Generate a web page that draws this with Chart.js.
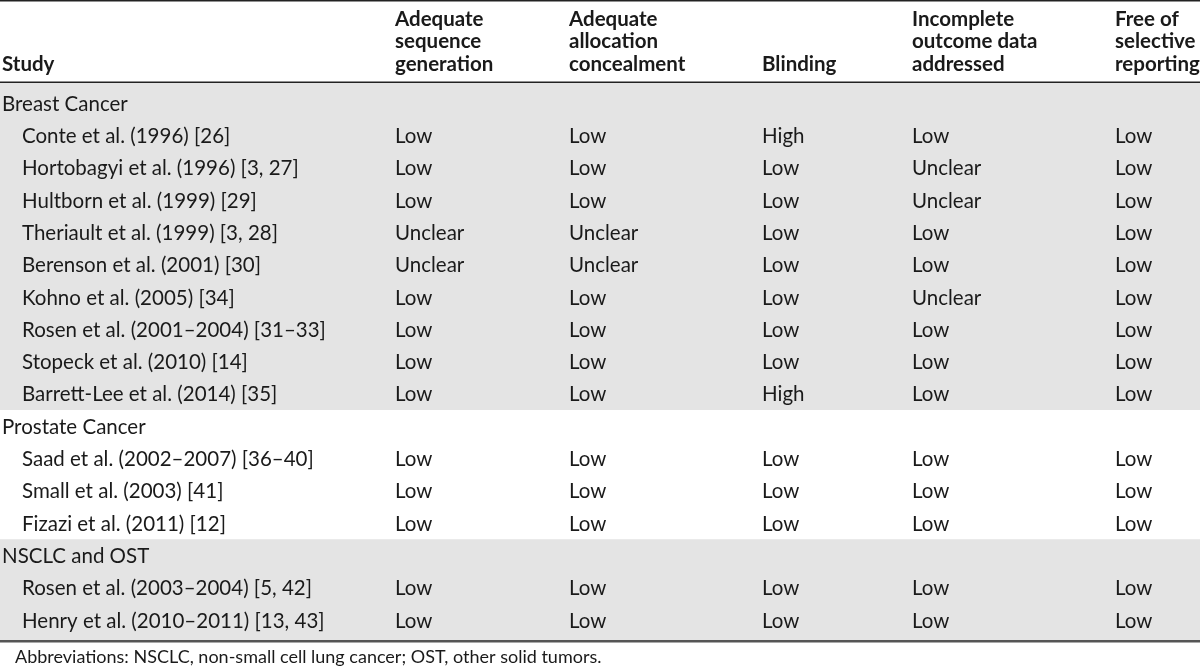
<!DOCTYPE html>
<html>
<head>
<meta charset="utf-8">
<script src="https://cdn.jsdelivr.net/npm/chart.js@4.4.1/dist/chart.umd.min.js"></script>
<style>
  html, body { margin: 0; padding: 0; background: #ffffff; }
  #wrap { width: 1200px; height: 666px; position: relative; }
</style>
</head>
<body>
<div id="wrap"><canvas id="riskTable"></canvas></div>
<script>
// Table content
const headers = [
    ["Study"],
    ["Adequate", "sequence", "generation"],
    ["Adequate", "allocation", "concealment"],
    ["Blinding"],
    ["Incomplete", "outcome data", "addressed"],
    ["Free of", "selective", "reporting"]
];

const groups = ["Breast Cancer", "Prostate Cancer", "NSCLC and OST"];

const studies = [
    "Conte et al. (1996) [26]",
    "Hortobagyi et al. (1996) [3, 27]",
    "Hultborn et al. (1999) [29]",
    "Theriault et al. (1999) [3, 28]",
    "Berenson et al. (2001) [30]",
    "Kohno et al. (2005) [34]",
    "Rosen et al. (2001–2004) [31–33]",
    "Stopeck et al. (2010) [14]",
    "Barrett-Lee et al. (2014) [35]",
    "Saad et al. (2002–2007) [36–40]",
    "Small et al. (2003) [41]",
    "Fizazi et al. (2011) [12]",
    "Rosen et al. (2003–2004) [5, 42]",
    "Henry et al. (2010–2011) [13, 43]"
];
const studyGroup = [0, 0, 0, 0, 0, 0, 0, 0, 0, 1, 1, 1, 2, 2];

const seqGeneration = ["Low", "Low", "Low", "Unclear", "Unclear", "Low", "Low", "Low", "Low", "Low", "Low", "Low", "Low", "Low"];
const allocConcealment = ["Low", "Low", "Low", "Unclear", "Unclear", "Low", "Low", "Low", "Low", "Low", "Low", "Low", "Low", "Low"];
const blinding = ["High", "Low", "Low", "Low", "Low", "Low", "Low", "Low", "High", "Low", "Low", "Low", "Low", "Low"];
const incompleteData = ["Low", "Unclear", "Unclear", "Low", "Low", "Unclear", "Low", "Low", "Low", "Low", "Low", "Low", "Low", "Low"];
const selectiveReporting = ["Low", "Low", "Low", "Low", "Low", "Low", "Low", "Low", "Low", "Low", "Low", "Low", "Low", "Low"];
const shadedGroups = [0, 2];

const footnote = "Abbreviations: NSCLC, non-small cell lung cancer; OST, other solid tumors.";

// Build the row list: a heading row per group, then its studies
const rows = [];
groups.forEach((g, gi) => {
    rows.push({ group: gi, label: g, heading: true, cells: [] });
    studies.forEach((s, si) => {
        if (studyGroup[si] !== gi) return;
        rows.push({
            group: gi,
            label: s,
            heading: false,
            cells: [seqGeneration[si], allocConcealment[si], blinding[si], incompleteData[si], selectiveReporting[si]]
        });
    });
});

// Layout
const colX = [2, 395, 569, 762, 912, 1115];
const indentX = 22;
const FONT = "Lato, 'Liberation Sans', sans-serif";
const TEXT_COLOR = "#1a1a1a";
const SHADE = "#e4e4e4";

const tablePlugin = {
    id: "tablePlugin",
    beforeDatasetsDraw(chart) {
        const { ctx, chartArea, scales } = chart;
        const y = scales.y;
        ctx.save();
        ctx.fillStyle = SHADE;
        groups.forEach((g, gi) => {
            if (!shadedGroups.includes(gi)) return;
            const idx = rows.map((r, i) => r.group === gi ? i : -1).filter(i => i >= 0);
            const first = idx[0], last = idx[idx.length - 1];
            const top = first === 0 ? chartArea.top : y.getPixelForValue(first - 0.5);
            const bottom = last === rows.length - 1 ? chartArea.bottom : y.getPixelForValue(last + 0.5);
            ctx.fillRect(chartArea.left, top, chartArea.right - chartArea.left, bottom - top);
        });
        ctx.restore();
    },
    afterDatasetsDraw(chart) {
        const { ctx, chartArea, scales } = chart;
        const y = scales.y;
        ctx.save();
        ctx.fillStyle = TEXT_COLOR;
        ctx.textBaseline = "middle";
        ctx.textAlign = "left";

        // header, bottom aligned
        ctx.font = "bold 20.5px " + FONT;
        headers.forEach((lines, ci) => {
            lines.forEach((txt, li) => {
                const ly = 64 - (lines.length - 1 - li) * 22.5;
                ctx.fillText(txt, colX[ci], ly);
            });
        });

        // body rows
        ctx.font = "20.5px " + FONT;
        rows.forEach((r, i) => {
            const py = y.getPixelForValue(i) + 1;
            ctx.fillText(r.label, r.heading ? colX[0] : indentX, py);
            r.cells.forEach((c, ci) => ctx.fillText(c, colX[ci + 1], py));
        });

        // rules
        ctx.fillStyle = "#222";
        ctx.fillRect(0, 0, 1200, 1.5);
        ctx.fillRect(0, chartArea.top - 1.5, 1200, 1.5);
        ctx.fillStyle = "#555";
        ctx.fillRect(0, chartArea.bottom - 1, 1200, 2.5);

        ctx.fillStyle = TEXT_COLOR;
        ctx.font = "18px " + FONT;
        ctx.fillText(footnote, 15, 657);
        ctx.restore();
    }
};

new Chart(document.getElementById("riskTable"), {
    type: "bar",
    data: {
        labels: rows.map(r => r.label),
        datasets: [{ label: "rows", data: [] }]
    },
    options: {
        responsive: true,
        maintainAspectRatio: false,
        animation: false,
        indexAxis: "y",
        layout: { padding: { top: 83, bottom: 25, left: 0, right: 0 } },
        plugins: { legend: { display: false }, tooltip: { enabled: false } },
        scales: {
            x: { type: "linear", min: 0, max: 1200, display: false, offset: false },
            y: { type: "linear", reverse: true, min: -0.62, max: 16.65, display: false, offset: false, grace: 0 }
        }
    },
    plugins: [tablePlugin]
});
</script>
</body>
</html>
